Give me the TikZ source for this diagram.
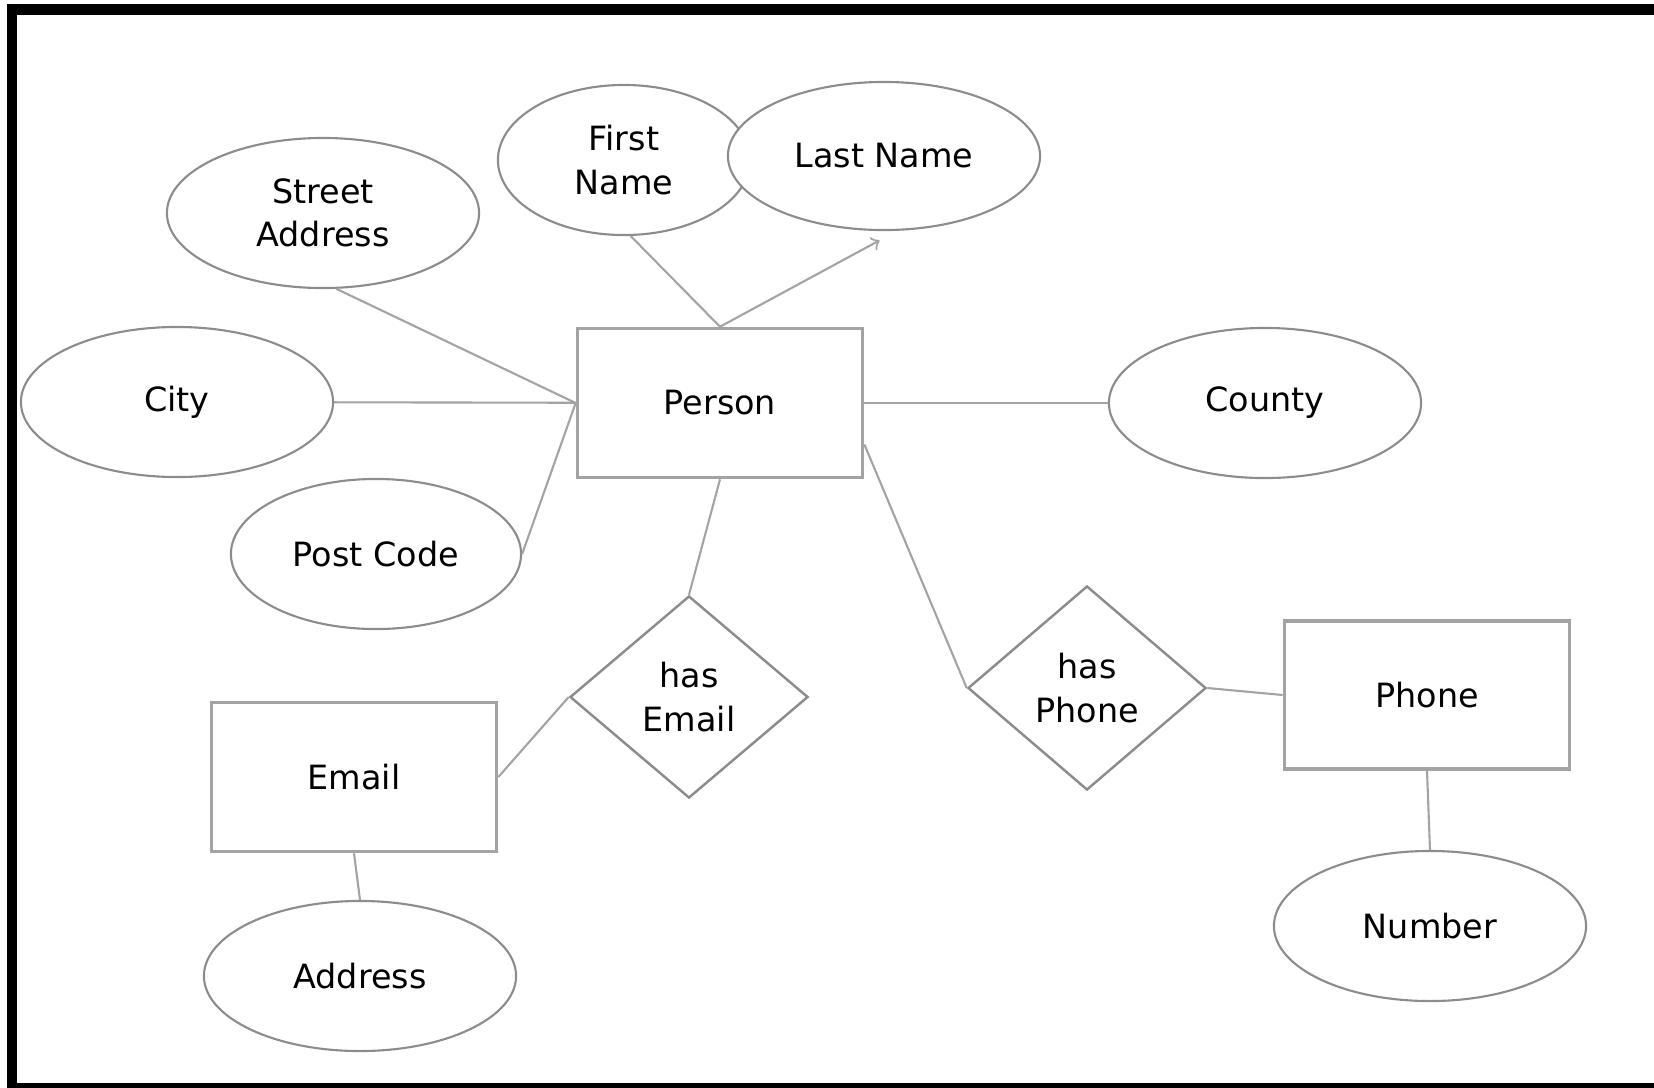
\documentclass[tikz,border=0pt]{standalone}
\usepackage{fontspec}
\setmainfont{DejaVu Sans}
\usetikzlibrary{arrows,shapes}
\definecolor{boxgray}{HTML}{A3A3A3}
\definecolor{rimgray}{HTML}{8C8C8C}

\begin{document}
\begin{tikzpicture}[x=0.01cm,y=-0.01cm,>=to,font=\fontsize{9.5}{12.3}\selectfont]
  \tikzset{attr/.style={ellipse,draw=rimgray,fill=white,line width=0.6pt,minimum width=3.12cm,minimum height=1.5cm,inner sep=0pt,align=center},
           entity/.style={rectangle,draw=boxgray,line width=1pt,minimum width=2.85cm,minimum height=1.49cm,inner sep=0pt},
           rel/.style={diamond,draw=rimgray,line width=0.7pt,minimum width=2.38cm,minimum height=2.02cm,inner sep=0pt,align=center},
           link/.style={draw=boxgray,line width=0.6pt}}
  \useasboundingbox (0,0) rectangle (1654,1087);
  \draw[line width=2.85pt] (12,9.5) rectangle (1670,1088);

  \node[attr]                           (street)   at (323, 213) {Street\\Address};
  \node[attr,minimum width=2.52cm]      (first)    at (624, 160) {First\\Name};
  \node[attr,minimum height=1.48cm]     (last)     at (884, 156) {Last Name};
  \node[entity]                         (person)   at (720, 403) {Person};
  \node[attr]                           (city)     at (177, 402) {City};
  \node[attr,minimum width=2.9cm]       (post)     at (376, 554) {Post Code};
  \node[attr]                           (county)   at (1265, 403) {County};
  \node[rel]                            (hasemail) at (689, 697) {has\\Email};
  \node[entity]                         (email)    at (354, 777) {Email};
  \node[attr]                           (address)  at (360, 976) {Address};
  \node[rel,minimum height=2.04cm]      (hasphone) at (1087, 688) {has\\Phone};
  \node[entity,minimum height=1.48cm]   (phone)    at (1427, 695) {Phone};
  \node[attr]                           (number)   at (1430, 926) {Number};

  \path[link] (street.-80)   edge (person.west)
              (city)         edge (person)
              (post.east)    edge (person.west)
              (first.-85)    edge (person.north)
              (person.north) edge[->,shorten >=0.2cm] (last.-80)
              (person)       edge (county)
              (person.south) edge (hasemail.north)
              (hasemail.west) edge (email.east)
              (email.south)  edge (address.north)
              (person.-16.5) edge (hasphone.west)
              (hasphone.east) edge (phone.west)
              (phone.south)  edge (number.north);
\end{tikzpicture}
\end{document}
